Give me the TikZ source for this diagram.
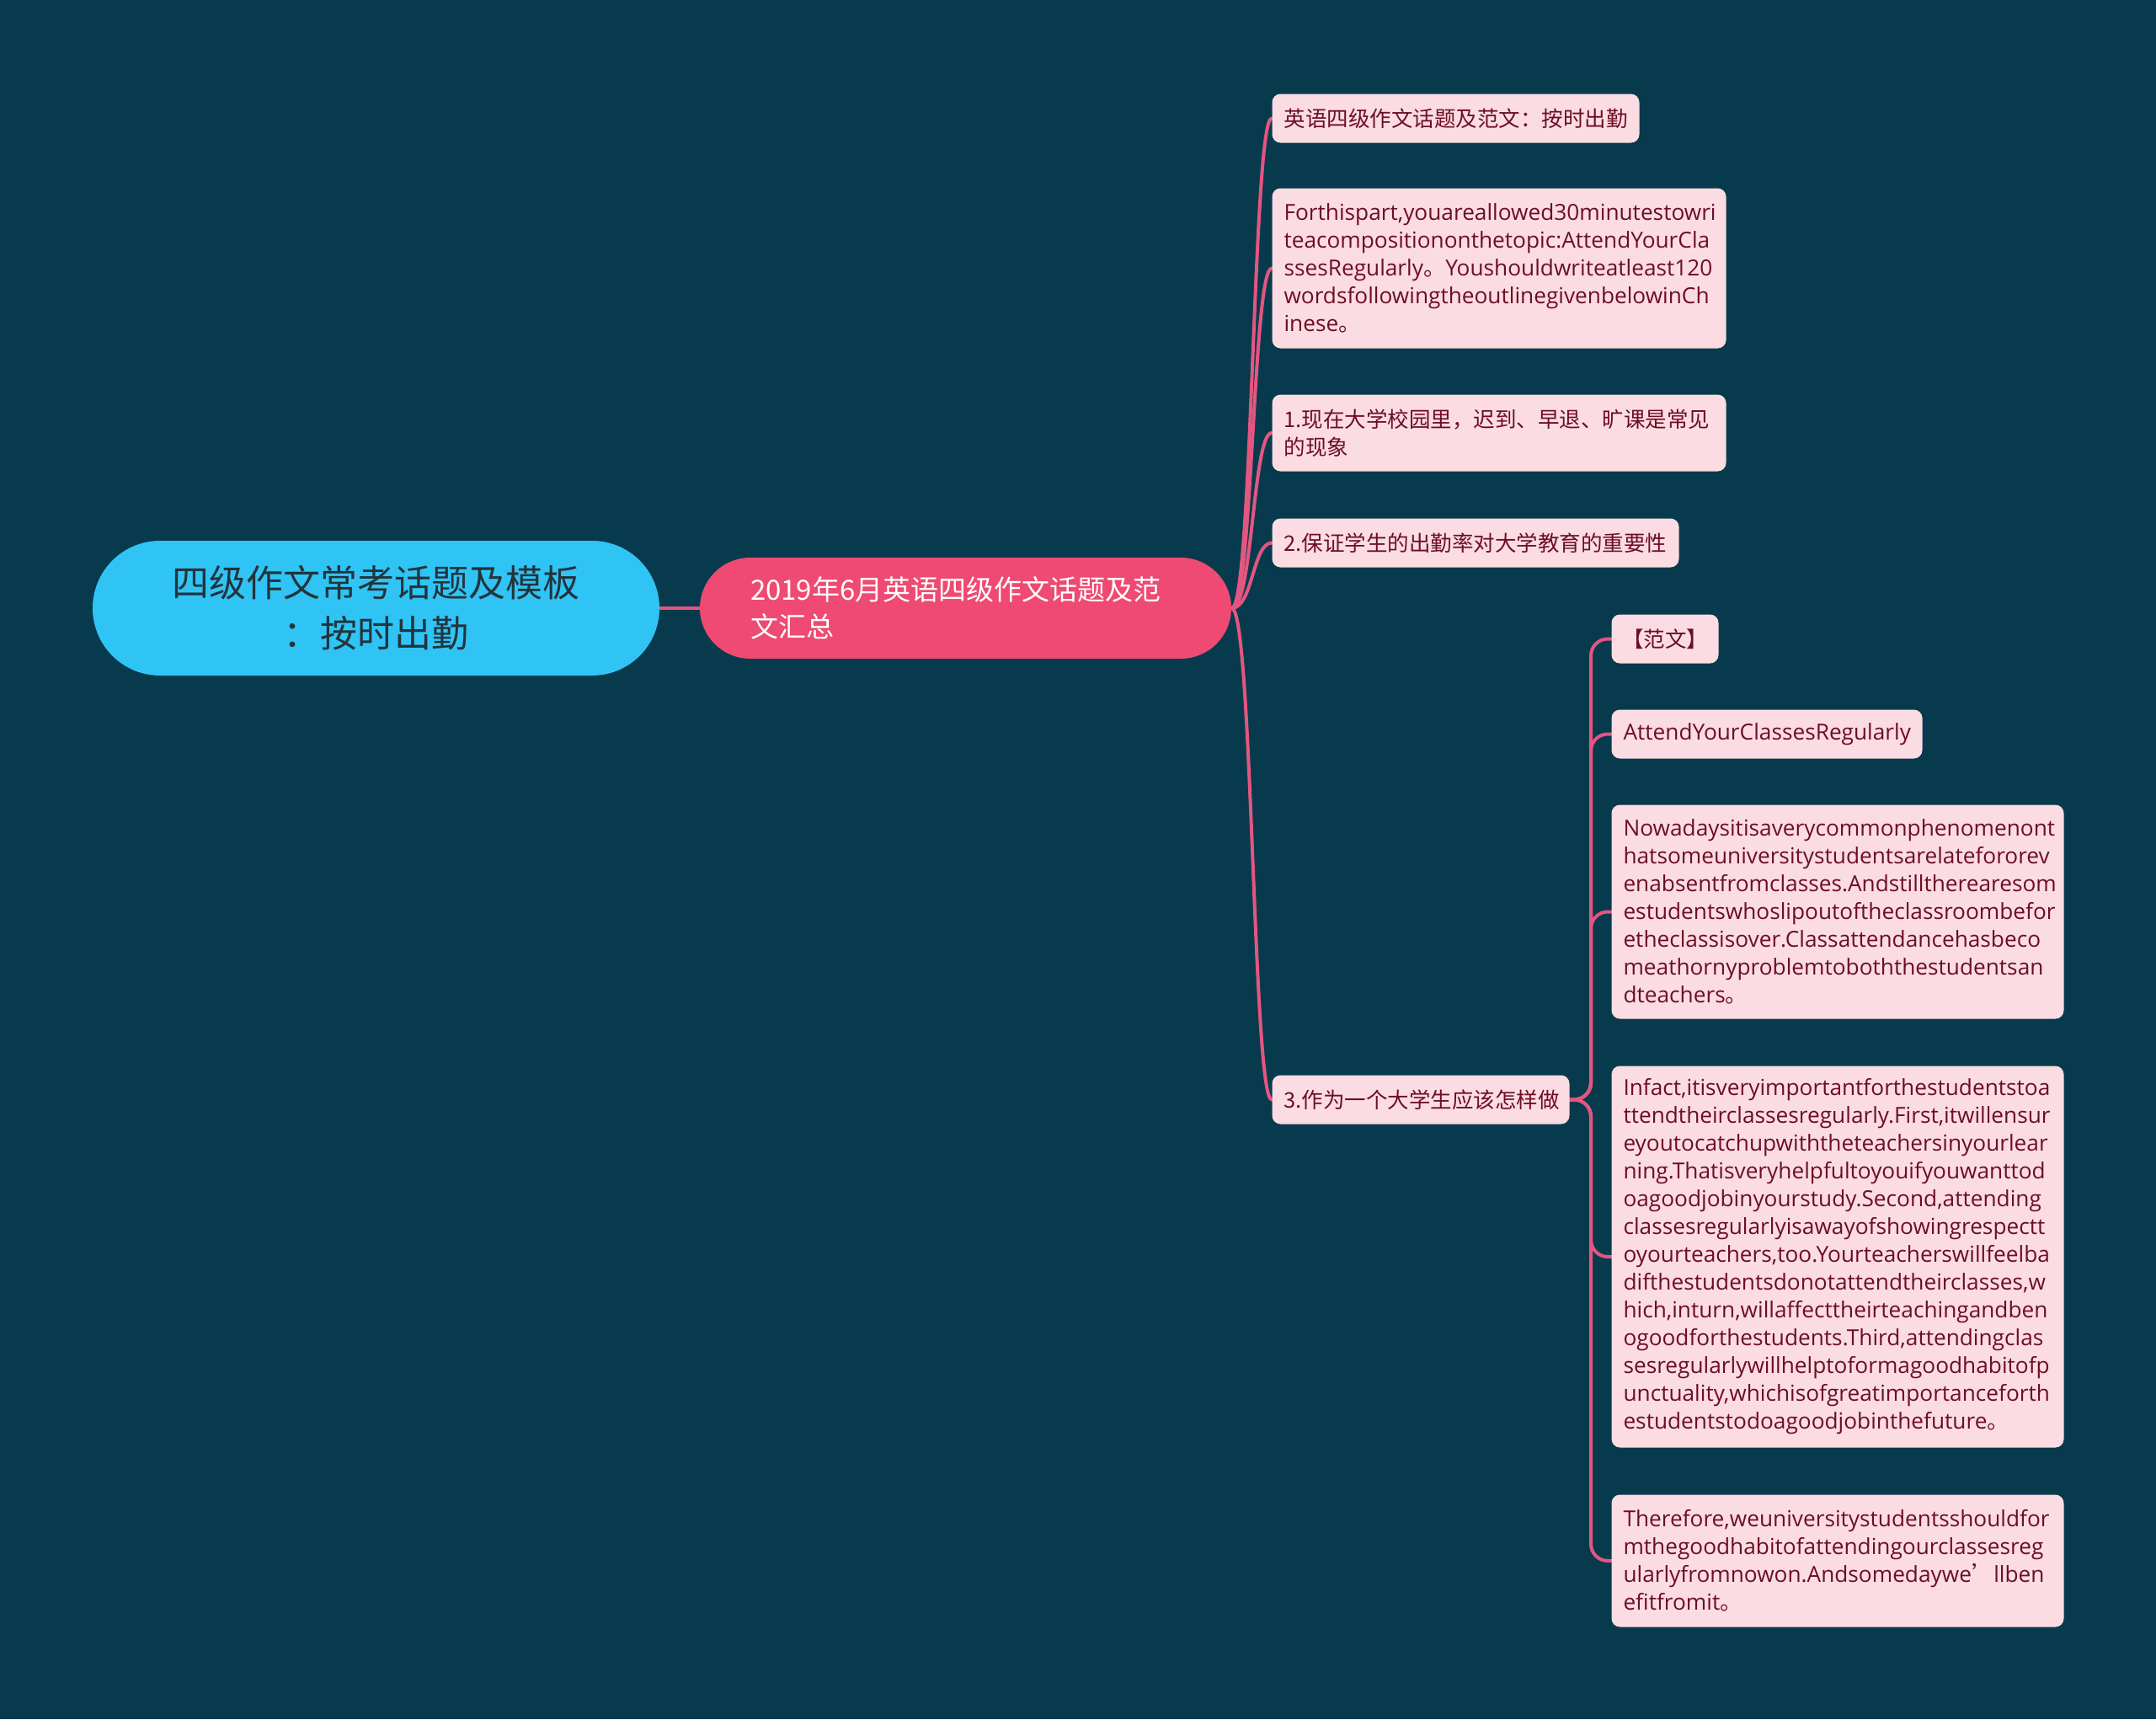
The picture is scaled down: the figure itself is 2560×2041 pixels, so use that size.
\documentclass[tikz,border=0pt]{standalone}
\usepackage{fontspec}
\setmainfont{Noto Sans CJK SC}
\newfontfamily\cjk{Noto Sans CJK SC}
\newfontfamily\lat{Open Sans}
\usetikzlibrary{calc}
\newdimen\pxu \pxu=0.4pt
\hyphenpenalty=10000 \exhyphenpenalty=10000
\definecolor{bgc}{HTML}{083A4D}
\definecolor{rootc}{HTML}{30C4F5}
\definecolor{roottxt}{HTML}{22343C}
\definecolor{mainc}{HTML}{EE4A73}
\definecolor{leafc}{HTML}{FBDCE2}
\definecolor{leaftxt}{HTML}{6D0E26}
\definecolor{connc}{HTML}{E35680}
\pgfdeclarelayer{back}
\pgfdeclarelayer{edges}
\pgfsetlayers{back,edges,main}
\tikzset{
  rootbox/.style={fill=rootc, text=roottxt, rounded corners=80\pxu, inner xsep=0pt, inner ysep=0pt,
    minimum width=673\pxu, minimum height=160\pxu, text width=673\pxu, align=center,
    font=\fontsize{17.6pt}{24pt}\selectfont},
  mainbox/.style={fill=mainc, text=white, rounded corners=60\pxu, inner xsep=60\pxu, inner ysep=0pt,
    minimum height=120\pxu, text width=511\pxu, align=left,
    font=\fontsize{13.2pt}{17.6pt}\selectfont},
  leaf/.style={fill=leafc, text=leaftxt, rounded corners=4pt, inner xsep=14\pxu, inner ysep=0pt,
    anchor=north west, align=left, font=\cjk\fontsize{10.2pt}{13.2pt}\selectfont},
  leafen/.style={leaf, font=\lat\fontsize{10.5pt}{13.2pt}\selectfont},
  conn/.style={draw=connc, line width=1.6pt, line cap=round}
}
\begin{document}
\begin{tikzpicture}[x=0.4pt,y=-0.4pt]
\begin{pgfonlayer}{back}
\fill[bgc] (0,0) rectangle (2560,2041);
\end{pgfonlayer}
\useasboundingbox (0,0) rectangle (2560,2041);

\node[rootbox] (root) at (446.5,722) {四级作文常考话题及模板\\：按时出勤};
\node[mainbox] (sub) at (1146.5,722) {2019年6月英语四级作文话题及范\\文汇总};

\node[leaf, minimum height=58\pxu, text width=408\pxu] (t1) at (1510,111) {英语四级作文话题及范文：按时出勤};
\node[leafen, minimum height=190\pxu, text width=511\pxu] (t2) at (1510,223)
 {Forthispart,youareallowed30minutestowri\\teacompositiononthetopic:AttendYourCla\\ssesRegularly{\cjk 。}Youshouldwriteatleast120\\wordsfollowingtheoutlinegivenbelowinCh\\inese{\cjk 。}};
\node[leaf, minimum height=91\pxu, text width=511\pxu] (t3) at (1510,468) {1.现在大学校园里，迟到、早退、旷课是常见\\的现象};
\node[leaf, minimum height=58\pxu, text width=455\pxu] (t4) at (1510,615) {2.保证学生的出勤率对大学教育的重要性};
\node[leaf, minimum height=58\pxu, text width=325\pxu] (t5) at (1510,1276) {3.作为一个大学生应该怎样做};

\node[leaf, minimum height=58\pxu, inner xsep=12.5\pxu, text width=102\pxu] (s1) at (1913,729) {【范文】};
\node[leafen, minimum height=58\pxu, text width=341\pxu] (s2) at (1913,842) {AttendYourClassesRegularly};
\node[leafen, minimum height=254\pxu, text width=509\pxu] (s3) at (1913,955)
 {Nowadaysitisaverycommonphenomenont\\hatsomeuniversitystudentsarelatefororev\\enabsentfromclasses.Andstilltherearesom\\estudentswhoslipoutoftheclassroombefor\\etheclassisover.Classattendancehasbeco\\meathornyproblemtoboththestudentsan\\dteachers{\cjk 。}};
\node[leafen, minimum height=453\pxu, text width=509\pxu] (s4) at (1913,1265)
 {Infact,itisveryimportantforthestudentstoa\\ttendtheirclassesregularly.First,itwillensur\\eyoutocatchupwiththeteachersinyourlear\\ning.Thatisveryhelpfultoyouifyouwanttod\\oagoodjobinyourstudy.Second,attending\\classesregularlyisawayofshowingrespectt\\oyourteachers,too.Yourteacherswillfeelba\\difthestudentsdonotattendtheirclasses,w\\hich,inturn,willaffecttheirteachingandben\\ogoodforthestudents.Third,attendingclas\\sesregularlywillhelptoformagoodhabitofp\\unctuality,whichisofgreatimportanceforth\\estudentstodoagoodjobinthefuture{\cjk 。}};
\node[leafen, minimum height=157\pxu, text width=509\pxu] (s5) at (1913,1774)
 {Therefore,weuniversitystudentsshouldfor\\mthegoodhabitofattendingourclassesreg\\ularlyfromnowon.Andsomedaywe{\cjk ’}llben\\efitfromit{\cjk 。}};

\begin{pgfonlayer}{edges}
\draw[conn] (root.east) -- (sub.west);
\coordinate (ja) at ($(sub.east)+(25,0)$);
\foreach \t in {t1,t2,t3,t4,t5}
  \draw[conn] (sub.east) .. controls (ja) and (ja |- \t.west) .. (\t.west);
\coordinate (jb) at ($(t5.east)+(25,0)$);
\foreach \s in {s1,s2,s3,s4,s5}
  \draw[conn, rounded corners=8pt] (t5.east) -- (jb) |- (\s.west);
\end{pgfonlayer}
\end{tikzpicture}
\end{document}
